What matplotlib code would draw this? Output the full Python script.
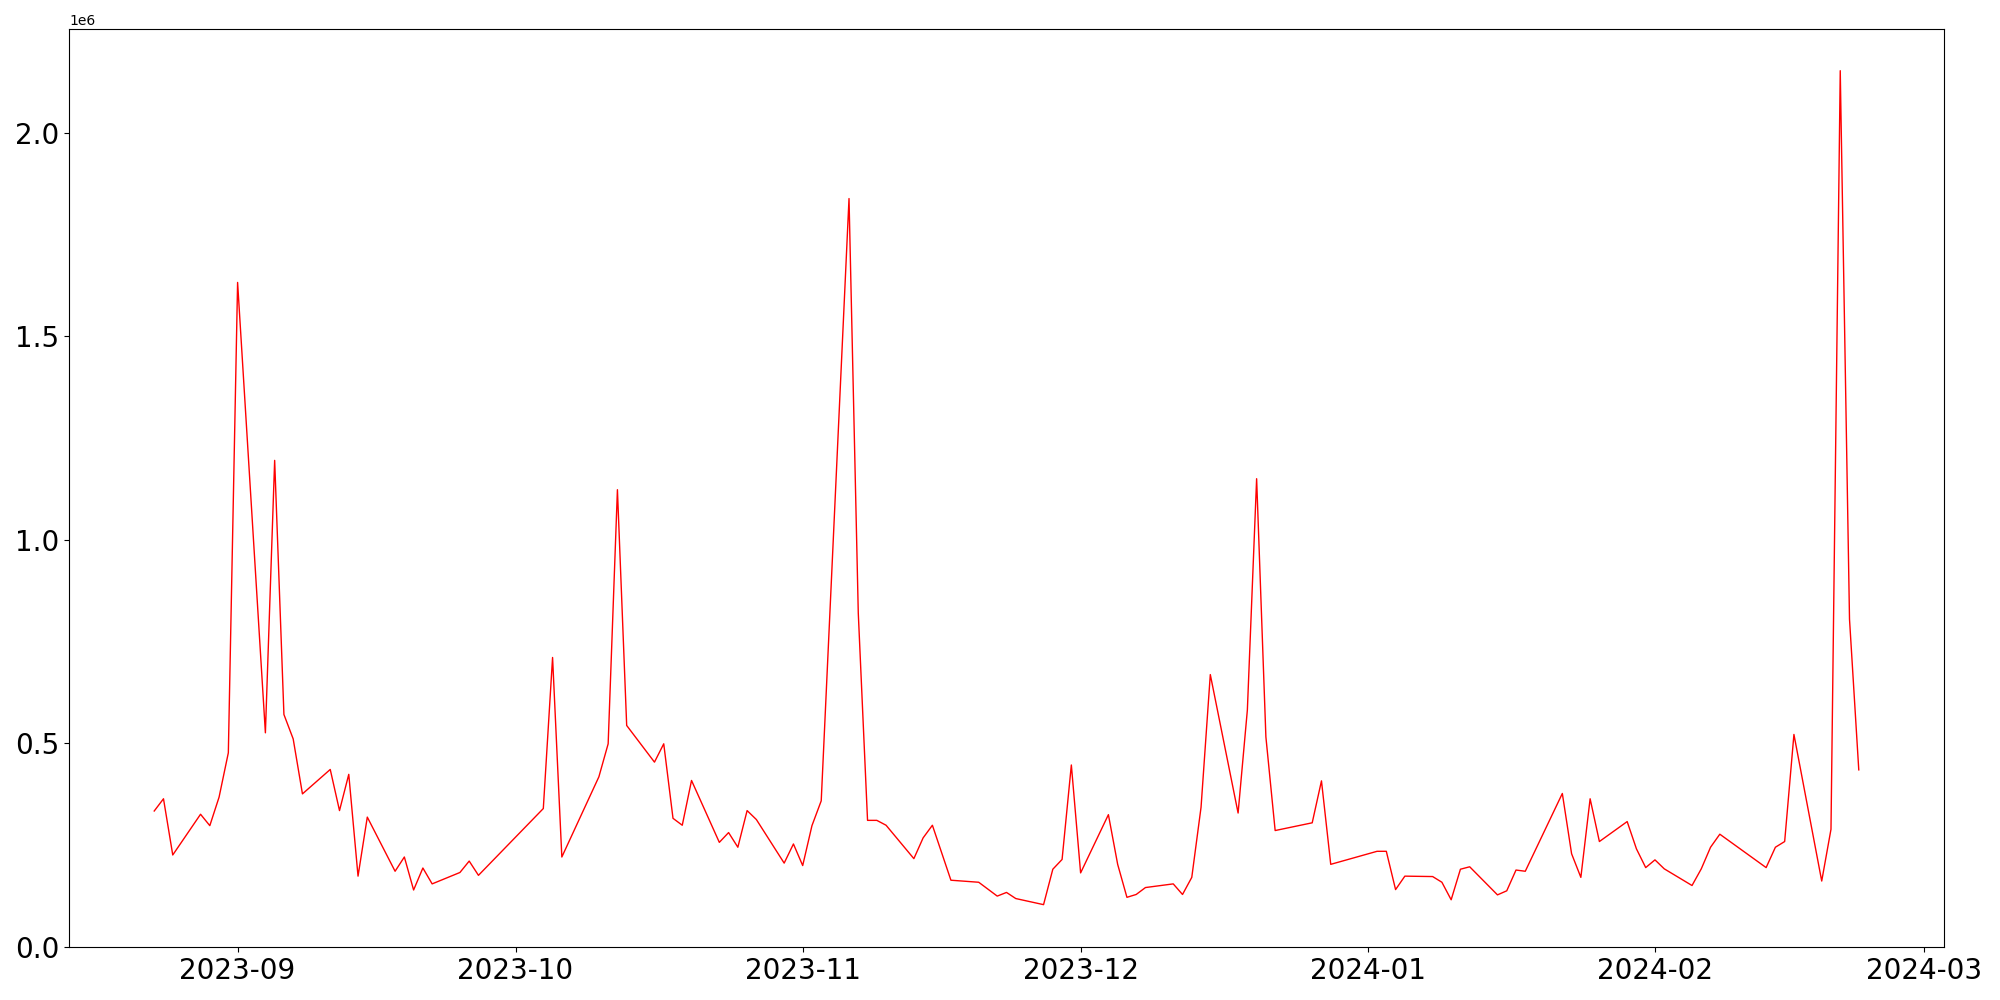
import pandas as pd
import matplotlib.pyplot as plt

dates = [
    "2023-08-23", "2023-08-24", "2023-08-25", "2023-08-28", "2023-08-29", "2023-08-30", "2023-08-31",
    "2023-09-01", "2023-09-04", "2023-09-05", "2023-09-06", "2023-09-07", "2023-09-08",
    "2023-09-11", "2023-09-12", "2023-09-13", "2023-09-14", "2023-09-15",
    "2023-09-18", "2023-09-19", "2023-09-20", "2023-09-21", "2023-09-22",
    "2023-09-25", "2023-09-26", "2023-09-27",
    "2023-10-04", "2023-10-05", "2023-10-06",
    "2023-10-10", "2023-10-11", "2023-10-12", "2023-10-13",
    "2023-10-16", "2023-10-17", "2023-10-18", "2023-10-19", "2023-10-20",
    "2023-10-23", "2023-10-24", "2023-10-25", "2023-10-26", "2023-10-27",
    "2023-10-30", "2023-10-31", "2023-11-01", "2023-11-02", "2023-11-03",
    "2023-11-06", "2023-11-07", "2023-11-08", "2023-11-09", "2023-11-10",
    "2023-11-13", "2023-11-14", "2023-11-15", "2023-11-17",
    "2023-11-20", "2023-11-22", "2023-11-23", "2023-11-24",
    "2023-11-27", "2023-11-28", "2023-11-29", "2023-11-30", "2023-12-01",
    "2023-12-04", "2023-12-05", "2023-12-06", "2023-12-07", "2023-12-08",
    "2023-12-11", "2023-12-12", "2023-12-13", "2023-12-14", "2023-12-15",
    "2023-12-18", "2023-12-19", "2023-12-20", "2023-12-21", "2023-12-22",
    "2023-12-26", "2023-12-27", "2023-12-28",
    "2024-01-02", "2024-01-03", "2024-01-04", "2024-01-05",
    "2024-01-08", "2024-01-09", "2024-01-10", "2024-01-11", "2024-01-12",
    "2024-01-15", "2024-01-16", "2024-01-17", "2024-01-18",
    "2024-01-22", "2024-01-23", "2024-01-24", "2024-01-25", "2024-01-26",
    "2024-01-29", "2024-01-30", "2024-01-31", "2024-02-01", "2024-02-02",
    "2024-02-05", "2024-02-06", "2024-02-07", "2024-02-08",
    "2024-02-13", "2024-02-14", "2024-02-15", "2024-02-16",
    "2024-02-19", "2024-02-20", "2024-02-21", "2024-02-22", "2024-02-23",
]

volume = [
    334000, 364000, 226000, 326000, 298000, 368000, 477000,
    1632000, 526000, 1195000, 571000, 511000, 376000,
    436000, 335000, 424000, 174000, 319000,
    186000, 221000, 140000, 194000, 155000,
    183000, 211000, 176000,
    340000, 711000, 221000,
    418000, 499000, 1123000, 544000,
    454000, 499000, 316000, 299000, 409000,
    257000, 281000, 245000, 335000, 313000,
    206000, 253000, 200000, 298000, 359000,
    1838000, 820000, 311000, 311000, 299000,
    217000, 268000, 299000, 164000,
    159000, 125000, 134000, 119000,
    104000, 191000, 215000, 447000, 182000,
    325000, 203000, 122000, 129000, 146000,
    155000, 129000, 171000, 343000, 669000,
    329000, 582000, 1150000, 516000, 286000,
    305000, 408000, 203000,
    235000, 235000, 141000, 174000,
    173000, 159000, 116000, 191000, 197000,
    128000, 138000, 189000, 186000,
    377000, 229000, 171000, 364000, 259000,
    308000, 241000, 195000, 214000, 192000,
    151000, 192000, 245000, 277000,
    195000, 245000, 259000, 522000,
    162000, 289000, 2152000, 805000, 435000,
]

x = pd.to_datetime(dates)

plt.figure(figsize=(20, 10))
plt.plot(x, volume, color="red", linewidth=1)
plt.xticks(fontsize=20)
plt.yticks(fontsize=20)
plt.ylim(bottom=0)
plt.subplots_adjust(left=0.0345, right=0.972, top=0.971, bottom=0.053)
plt.savefig("out.png", dpi=100)
